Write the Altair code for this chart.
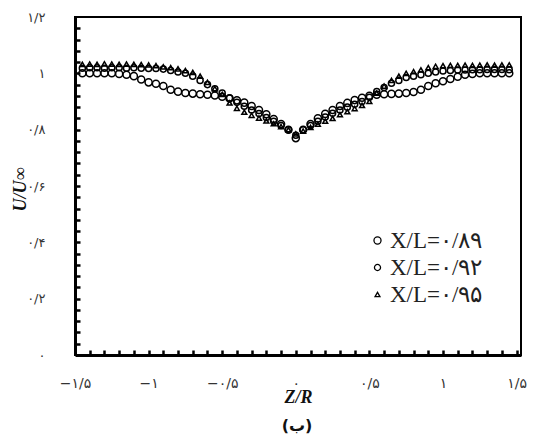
import altair as alt
import pandas as pd

Z = [-1.45, -1.4, -1.35, -1.3, -1.25, -1.2, -1.15, -1.1, -1.05, -1.0,
     -0.95, -0.9, -0.85, -0.8, -0.75, -0.7, -0.65, -0.6, -0.55, -0.5,
     -0.45, -0.4, -0.35, -0.3, -0.25, -0.2, -0.15, -0.1, -0.05, 0.0,
     0.05, 0.1, 0.15, 0.2, 0.25, 0.3, 0.35, 0.4, 0.45, 0.5,
     0.55, 0.6, 0.65, 0.7, 0.75, 0.8, 0.85, 0.9, 0.95, 1.0,
     1.05, 1.1, 1.15, 1.2, 1.25, 1.3, 1.35, 1.4, 1.45]

U_089 = [1.0, 1.0, 1.0, 1.0, 1.0, 0.998, 0.995, 0.99, 0.978, 0.968,
         0.963, 0.955, 0.942, 0.935, 0.93, 0.928, 0.926, 0.924, 0.921, 0.917,
         0.911, 0.904, 0.896, 0.884, 0.87, 0.855, 0.838, 0.82, 0.80, 0.77,
         0.80, 0.82, 0.84, 0.856, 0.87, 0.884, 0.895, 0.905, 0.913, 0.92,
         0.924, 0.926, 0.927, 0.928, 0.93, 0.934, 0.942, 0.955, 0.965, 0.972,
         0.98, 0.988, 0.995, 0.998, 1.0, 1.0, 1.0, 1.0, 1.0]

U_092 = [1.018, 1.02, 1.02, 1.018, 1.02, 1.02, 1.018, 1.02, 1.018, 1.017,
         1.017, 1.015, 1.01, 1.005, 1.0, 0.99, 0.975, 0.96, 0.945, 0.93,
         0.912, 0.897, 0.883, 0.87, 0.857, 0.843, 0.83, 0.815, 0.80, 0.78,
         0.80, 0.815, 0.83, 0.845, 0.858, 0.87, 0.88, 0.89, 0.90, 0.915,
         0.935, 0.95, 0.965, 0.975, 0.985, 0.99, 0.995, 1.0, 1.005, 1.008,
         1.01, 1.012, 1.012, 1.013, 1.013, 1.014, 1.014, 1.014, 1.013]

U_095 = [1.032, 1.033, 1.032, 1.034, 1.033, 1.032, 1.033, 1.032, 1.031, 1.03,
         1.027, 1.023, 1.02, 1.016, 1.01, 1.003, 0.99, 0.968, 0.946, 0.925,
         0.895, 0.876, 0.862, 0.851, 0.841, 0.831, 0.821, 0.811, 0.80, 0.785,
         0.795, 0.808, 0.82, 0.83, 0.84, 0.853, 0.864, 0.875, 0.886, 0.90,
         0.93, 0.955, 0.975, 0.99, 1.0, 1.006, 1.012, 1.02, 1.025, 1.027,
         1.028, 1.028, 1.029, 1.028, 1.029, 1.03, 1.029, 1.03, 1.03]

SERIES = ["X/L=۰/۸۹", "X/L=۰/۹۲", "X/L=۰/۹۵"]
SHAPES = ["circle", "circle", "triangle-up"]
SIZES = [50, 24, 44]

X_TICKS = [-1.5, -1.0, -0.5, 0.0, 0.5, 1.0, 1.5]
X_LABELS = ["−۱/۵", "−۱", "−۰/۵", "۰", "۰/۵", "۱", "۱/۵"]
Y_TICKS = [0.0, 0.2, 0.4, 0.6, 0.8, 1.0, 1.2]
Y_LABELS = ["۰", "۰/۲", "۰/۴", "۰/۶", "۰/۸", "۱", "۱/۲"]

X_MINOR = [-1.5, -1.4, -1.3, -1.2, -1.1, -1.0, -0.9, -0.8, -0.7, -0.6,
           -0.5, -0.4, -0.3, -0.2, -0.1, 0.0, 0.1, 0.2, 0.3, 0.4,
           0.5, 0.6, 0.7, 0.8, 0.9, 1.0, 1.1, 1.2, 1.3, 1.4, 1.5]
Y_MINOR = [0.04, 0.08, 0.12, 0.16, 0.2, 0.24, 0.28, 0.32, 0.36, 0.4,
           0.44, 0.48, 0.52, 0.56, 0.6, 0.64, 0.68, 0.72, 0.76, 0.8,
           0.84, 0.88, 0.92, 0.96, 1.0, 1.04, 1.08, 1.12, 1.16]

rows = []
for name, vals in zip(SERIES, [U_089, U_092, U_095]):
    for z, u in zip(Z, vals):
        rows.append({"z": z, "u": u, "s": name})
df = pd.DataFrame(rows)


def label_expr(ticks, labels):
    expr = "''"
    for t, l in reversed(list(zip(ticks, labels))):
        expr = f"abs(datum.value - ({t})) < 1e-6 ? '{l}' : ({expr})"
    return expr


W, H = 446, 338
xscale = alt.Scale(domain=[-1.5, 1.53], nice=False, zero=False)
yscale = alt.Scale(domain=[0, 1.2], nice=False, zero=False)

legend_kw = dict(title=None, orient="none", legendX=291, legendY=212,
                 labelFont="Liberation Serif", labelFontSize=23,
                 labelColor="#222", rowPadding=3, labelOffset=1,
                 symbolStrokeColor="black", symbolFillColor="white",
                 symbolStrokeWidth=1.3)

points = alt.Chart(df).mark_point(filled=False, stroke="black", strokeWidth=1.5, opacity=1).encode(
    x=alt.X("z:Q", scale=xscale,
            axis=alt.Axis(values=X_TICKS, labelExpr=label_expr(X_TICKS, X_LABELS),
                          ticks=False, grid=False, domainWidth=3, domainColor="black",
                          labelFlush=False, labelOverlap=False,
                          labelPadding=21, labelFont="DejaVu Sans", labelFontSize=14,
                          labelColor="#333", title="Z/R", titleFont="Liberation Serif",
                          titleFontSize=18, titleFontStyle="italic", titleFontWeight="bold",
                          titleY=42, titleBaseline="middle", titleColor="#111")),
    y=alt.Y("u:Q", scale=yscale,
            axis=alt.Axis(values=Y_TICKS, labelExpr=label_expr(Y_TICKS, Y_LABELS),
                          ticks=False, grid=False, domainWidth=3, domainColor="black",
                          labelFlush=False, labelOverlap=False,
                          labelPadding=30, labelFont="DejaVu Sans", labelFontSize=13,
                          labelColor="#333", title="U/U∞", titleFont="Liberation Serif",
                          titleFontSize=18, titleFontStyle="italic", titleFontWeight="bold",
                          titleX=-46, titleY=172, titleColor="#111")),
    shape=alt.Shape("s:N", scale=alt.Scale(domain=SERIES, range=SHAPES),
                    legend=alt.Legend(**legend_kw)),
    size=alt.Size("s:N", scale=alt.Scale(domain=SERIES, range=SIZES),
                  legend=alt.Legend(**legend_kw)),
)

ticks_layer = alt.Chart(df).mark_point(opacity=0).encode(
    x=alt.X("z:Q", scale=xscale,
            axis=alt.Axis(orient="top", offset=-H, values=X_MINOR, labels=False, domain=False,
                          grid=False, ticks=True, tickSize=5, tickWidth=2.5, tickColor="black",
                          title=None)),
    y=alt.Y("u:Q", scale=yscale,
            axis=alt.Axis(orient="right", offset=-W, values=Y_MINOR, labels=False, domain=False,
                          grid=False, ticks=True, tickSize=5, tickWidth=2.5, tickColor="black",
                          title=None)),
)

caption = alt.Chart(alt.Data(values=[{"t": "(ب)"}])).mark_text(
    font="DejaVu Sans", fontSize=16, fontWeight="bold", color="#111"
).encode(x=alt.value(222), y=alt.value(409), text="t:N")

chart = alt.layer(points, ticks_layer, caption).resolve_axis(
    x="independent", y="independent"
).properties(
    width=W, height=H,
    autosize=alt.AutoSizeParams(type="none"),
    padding={"left": 67, "top": 9, "right": 10, "bottom": 82},
).configure_view(stroke="black", strokeWidth=2)

chart.save("out.html", embed_options={"renderer": "svg", "actions": False})
